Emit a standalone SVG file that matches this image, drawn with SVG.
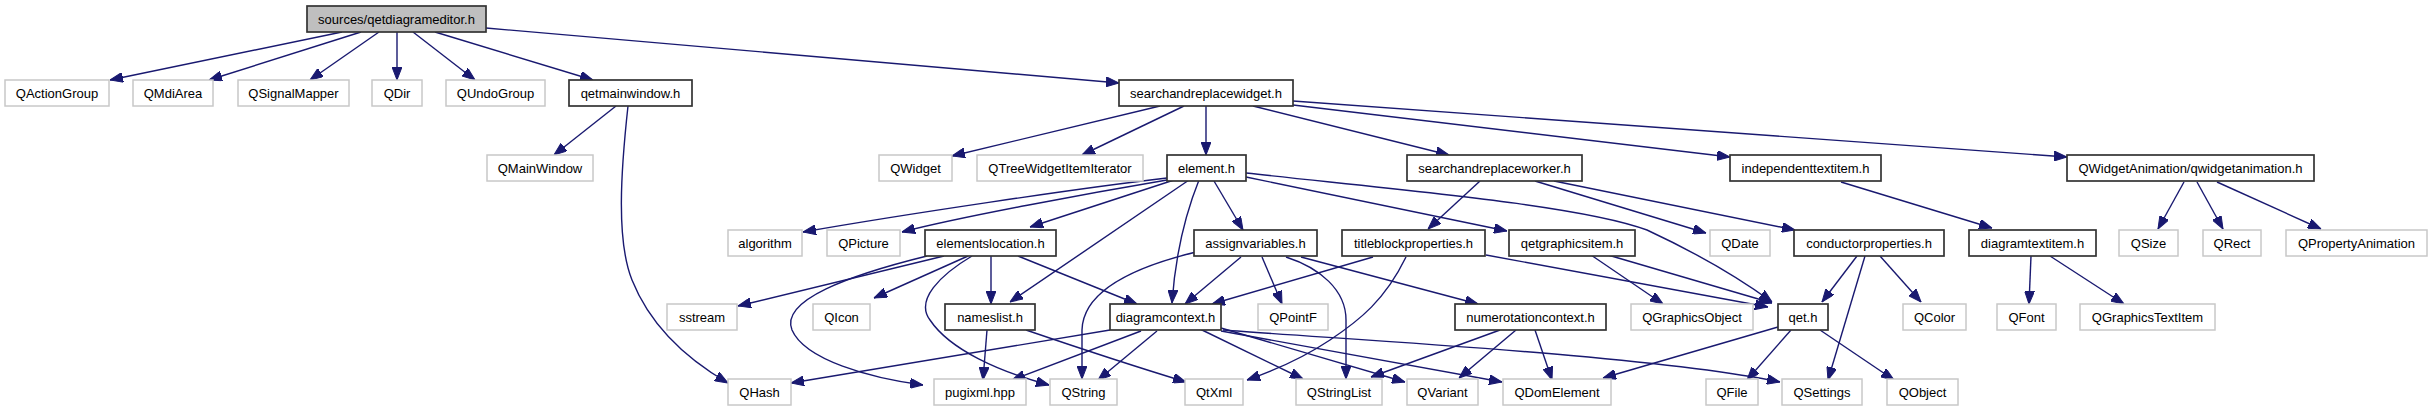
<svg xmlns="http://www.w3.org/2000/svg" width="2431" height="411" viewBox="0 0 2431 411">
<style>
.n rect{fill:#fff;stroke:#c8c8c8;stroke-width:1.5}
.d rect{fill:#fff;stroke:#333;stroke-width:1.7}
.r rect{fill:#bfbfbf;stroke:#333;stroke-width:1.7}
text{font-family:"Liberation Sans",Arial,Helvetica,sans-serif;font-size:13px;fill:#000;text-anchor:middle}
#edges path{fill:none;stroke:#191970;stroke-width:1.4;marker-end:url(#ah)}
</style>
<defs>
<marker id="ah" viewBox="0 0 13 10" refX="13" refY="5" markerWidth="13" markerHeight="10" markerUnits="userSpaceOnUse" orient="auto">
<path d="M0,0 L13,5 L0,10 z" fill="#191970" stroke="#191970" stroke-width="1"/>
</marker>
</defs>
<rect width="2431" height="411" fill="#fff"/>
<g id="edges">
<!-- root -->
<path d="M342,32 L110,80"/>
<path d="M361,32 L209,80"/>
<path d="M379,32 L310,80"/>
<path d="M397,32 L397,80"/>
<path d="M413,32 L475,80"/>
<path d="M435,32 L593,80"/>
<path d="M486,28 L1119,83"/>
<!-- qetmainwindow -->
<path d="M616,106 L554,155"/>
<path d="M628,106 C621,170 616,240 632,280 C650,325 685,358 728,383"/>
<!-- searchandreplacewidget -->
<path d="M1160,106 L952,156"/>
<path d="M1184,106 L1082,155"/>
<path d="M1206,106 L1206,155"/>
<path d="M1253,106 L1449,155"/>
<path d="M1293,105 L1730,157"/>
<path d="M1293,101 L2067,157"/>
<!-- element.h -->
<path d="M1167,178 C1080,188 900,215 803,232"/>
<path d="M1167,180 C1090,193 960,217 902,232"/>
<path d="M1174,180 L1030,227"/>
<path d="M1189,180 L1010,302"/>
<path d="M1199,180 C1185,215 1175,260 1172,303"/>
<path d="M1214,181 L1243,230"/>
<path d="M1246,177 L1507,231"/>
<path d="M1246,173 C1400,190 1580,205 1647,230 C1690,250 1735,275 1772,302"/>
<!-- searchandreplaceworker -->
<path d="M1480,181 L1428,229"/>
<path d="M1535,181 L1706,233"/>
<path d="M1554,181 L1795,230"/>
<!-- independenttextitem -->
<path d="M1841,182 L1992,228"/>
<!-- QWidgetAnimation -->
<path d="M2184,182 L2158,229"/>
<path d="M2197,182 L2223,229"/>
<path d="M2217,182 L2321,229"/>
<!-- elementslocation -->
<path d="M944,256 L738,306"/>
<path d="M927,256 C850,275 780,300 792,330 C805,360 870,378 923,385"/>
<path d="M968,256 L874,298"/>
<path d="M972,256 C940,275 915,300 930,320 C950,350 1000,372 1049,385"/>
<path d="M991,256 L991,304"/>
<path d="M1018,256 L1137,304"/>
<!-- assignvariables -->
<path d="M1241,257 L1185,304"/>
<path d="M1196,252 C1130,268 1083,292 1082,330 L1082,379"/>
<path d="M1262,257 L1282,304"/>
<path d="M1286,257 C1320,268 1346,290 1346,320 L1346,379"/>
<path d="M1301,257 L1478,304"/>
<!-- titleblockproperties -->
<path d="M1373,257 L1212,304"/>
<path d="M1406,257 C1385,300 1360,320 1330,340 C1300,360 1270,372 1247,380"/>
<path d="M1486,255 L1768,307"/>
<!-- qetgraphicsitem -->
<path d="M1591,255 L1663,304"/>
<path d="M1608,255 L1772,303"/>
<!-- diagramcontext -->
<path d="M1110,330 L791,383"/>
<path d="M1141,331 L1012,380"/>
<path d="M1157,331 L1098,380"/>
<path d="M1200,329 L1303,379"/>
<path d="M1221,328 L1405,382"/>
<path d="M1221,331 L1502,382"/>
<path d="M1223,330 C1350,340 1650,355 1780,382"/>
<!-- nameslist -->
<path d="M987,330 L983,380"/>
<path d="M1026,330 C1070,345 1130,365 1186,382"/>
<!-- numerotationcontext -->
<path d="M1500,330 L1371,377"/>
<path d="M1516,330 L1459,378"/>
<path d="M1535,330 L1552,380"/>
<!-- qet.h -->
<path d="M1778,327 L1603,378"/>
<path d="M1791,330 L1747,380"/>
<path d="M1820,330 L1894,380"/>
<!-- conductorproperties -->
<path d="M1857,256 L1822,302"/>
<path d="M1865,256 L1828,380"/>
<path d="M1880,256 L1921,302"/>
<!-- diagramtextitem -->
<path d="M2031,256 L2029,304"/>
<path d="M2050,256 L2124,304"/>
</g>
<!-- row 1 -->
<g id="n-root" class="r"><rect x="307" y="6" width="179" height="26"/><text x="396.5" y="23.5">sources/qetdiagrameditor.h</text></g>
<!-- row 2 -->
<g id="n-QActionGroup" class="n"><rect x="5" y="80" width="104" height="26"/><text x="57" y="97.5">QActionGroup</text></g>
<g id="n-QMdiArea" class="n"><rect x="133" y="80" width="80" height="26"/><text x="173" y="97.5">QMdiArea</text></g>
<g id="n-QSignalMapper" class="n"><rect x="238" y="80" width="111" height="26"/><text x="293.5" y="97.5">QSignalMapper</text></g>
<g id="n-QDir" class="n"><rect x="372" y="80" width="50" height="26"/><text x="397" y="97.5">QDir</text></g>
<g id="n-QUndoGroup" class="n"><rect x="446" y="80" width="99" height="26"/><text x="495.5" y="97.5">QUndoGroup</text></g>
<g id="n-qetmainwindow" class="d"><rect x="569" y="80" width="123" height="26"/><text x="630.5" y="97.5">qetmainwindow.h</text></g>
<g id="n-searchandreplacewidget" class="d"><rect x="1119" y="80" width="174" height="26"/><text x="1206" y="97.5">searchandreplacewidget.h</text></g>
<!-- row 3 -->
<g id="n-QMainWindow" class="n"><rect x="487" y="155" width="106" height="26"/><text x="540" y="172.5">QMainWindow</text></g>
<g id="n-QWidget" class="n"><rect x="879" y="155" width="73" height="26"/><text x="915.5" y="172.5">QWidget</text></g>
<g id="n-QTreeWidgetItemIterator" class="n"><rect x="977" y="155" width="166" height="26"/><text x="1060" y="172.5">QTreeWidgetItemIterator</text></g>
<g id="n-element" class="d"><rect x="1167" y="155" width="79" height="26"/><text x="1206.5" y="172.5">element.h</text></g>
<g id="n-searchandreplaceworker" class="d"><rect x="1407" y="155" width="175" height="26"/><text x="1494.5" y="172.5">searchandreplaceworker.h</text></g>
<g id="n-independenttextitem" class="d"><rect x="1730" y="155" width="151" height="26"/><text x="1805.5" y="172.5">independenttextitem.h</text></g>
<g id="n-qwidgetanimation" class="d"><rect x="2067" y="155" width="247" height="26"/><text x="2190.5" y="172.5">QWidgetAnimation/qwidgetanimation.h</text></g>
<!-- row 4 -->
<g id="n-algorithm" class="n"><rect x="728" y="230" width="74" height="26"/><text x="765" y="247.5">algorithm</text></g>
<g id="n-QPicture" class="n"><rect x="827" y="230" width="73" height="26"/><text x="863.5" y="247.5">QPicture</text></g>
<g id="n-elementslocation" class="d"><rect x="925" y="230" width="131" height="26"/><text x="990.5" y="247.5">elementslocation.h</text></g>
<g id="n-assignvariables" class="d"><rect x="1194" y="230" width="123" height="26"/><text x="1255.5" y="247.5">assignvariables.h</text></g>
<g id="n-titleblockproperties" class="d"><rect x="1342" y="230" width="143" height="26"/><text x="1413.5" y="247.5">titleblockproperties.h</text></g>
<g id="n-qetgraphicsitem" class="d"><rect x="1509" y="230" width="126" height="26"/><text x="1572" y="247.5">qetgraphicsitem.h</text></g>
<g id="n-QDate" class="n"><rect x="1710" y="230" width="60" height="26"/><text x="1740" y="247.5">QDate</text></g>
<g id="n-conductorproperties" class="d"><rect x="1794" y="230" width="150" height="26"/><text x="1869" y="247.5">conductorproperties.h</text></g>
<g id="n-diagramtextitem" class="d"><rect x="1969" y="230" width="127" height="26"/><text x="2032.5" y="247.5">diagramtextitem.h</text></g>
<g id="n-QSize" class="n"><rect x="2119" y="230" width="59" height="26"/><text x="2148.5" y="247.5">QSize</text></g>
<g id="n-QRect" class="n"><rect x="2203" y="230" width="58" height="26"/><text x="2232" y="247.5">QRect</text></g>
<g id="n-QPropertyAnimation" class="n"><rect x="2286" y="230" width="141" height="26"/><text x="2356.5" y="247.5">QPropertyAnimation</text></g>
<!-- row 5 -->
<g id="n-sstream" class="n"><rect x="667" y="304" width="70" height="26"/><text x="702" y="321.5">sstream</text></g>
<g id="n-QIcon" class="n"><rect x="813" y="304" width="57" height="26"/><text x="841.5" y="321.5">QIcon</text></g>
<g id="n-nameslist" class="d"><rect x="945" y="304" width="90" height="26"/><text x="990" y="321.5">nameslist.h</text></g>
<g id="n-diagramcontext" class="d"><rect x="1110" y="304" width="111" height="26"/><text x="1165.5" y="321.5">diagramcontext.h</text></g>
<g id="n-QPointF" class="n"><rect x="1258" y="304" width="70" height="26"/><text x="1293" y="321.5">QPointF</text></g>
<g id="n-numerotationcontext" class="d"><rect x="1455" y="304" width="151" height="26"/><text x="1530.5" y="321.5">numerotationcontext.h</text></g>
<g id="n-QGraphicsObject" class="n"><rect x="1631" y="304" width="122" height="26"/><text x="1692" y="321.5">QGraphicsObject</text></g>
<g id="n-qet" class="d"><rect x="1778" y="304" width="50" height="26"/><text x="1803" y="321.5">qet.h</text></g>
<g id="n-QColor" class="n"><rect x="1903" y="304" width="63" height="26"/><text x="1934.5" y="321.5">QColor</text></g>
<g id="n-QFont" class="n"><rect x="1997" y="304" width="59" height="26"/><text x="2026.5" y="321.5">QFont</text></g>
<g id="n-QGraphicsTextItem" class="n"><rect x="2080" y="304" width="135" height="26"/><text x="2147.5" y="321.5">QGraphicsTextItem</text></g>
<!-- row 6 -->
<g id="n-QHash" class="n"><rect x="728" y="379" width="63" height="26"/><text x="759.5" y="396.5">QHash</text></g>
<g id="n-pugixml" class="n"><rect x="934" y="379" width="92" height="26"/><text x="980" y="396.5">pugixml.hpp</text></g>
<g id="n-QString" class="n"><rect x="1050" y="379" width="67" height="26"/><text x="1083.5" y="396.5">QString</text></g>
<g id="n-QtXml" class="n"><rect x="1185" y="379" width="58" height="26"/><text x="1214" y="396.5">QtXml</text></g>
<g id="n-QStringList" class="n"><rect x="1296" y="379" width="86" height="26"/><text x="1339" y="396.5">QStringList</text></g>
<g id="n-QVariant" class="n"><rect x="1407" y="379" width="71" height="26"/><text x="1442.5" y="396.5">QVariant</text></g>
<g id="n-QDomElement" class="n"><rect x="1503" y="379" width="108" height="26"/><text x="1557" y="396.5">QDomElement</text></g>
<g id="n-QFile" class="n"><rect x="1706" y="379" width="52" height="26"/><text x="1732" y="396.5">QFile</text></g>
<g id="n-QSettings" class="n"><rect x="1782" y="379" width="80" height="26"/><text x="1822" y="396.5">QSettings</text></g>
<g id="n-QObject" class="n"><rect x="1887" y="379" width="71" height="26"/><text x="1922.5" y="396.5">QObject</text></g>
</svg>
